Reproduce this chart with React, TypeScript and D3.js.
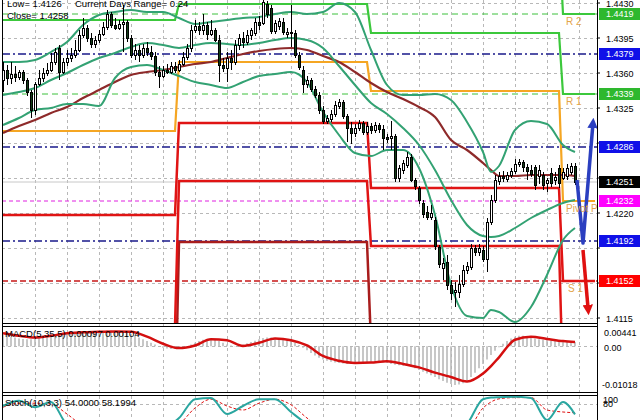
import React from "react";
import * as d3 from "d3";

// ---------- Candles (price in points, i.e. price x 10000) ----------
const openP = [
  14353,14363,14355,14359,14356,14361,14353,14341,14323,14349,
  14355,14360,14363,14371,14385,14361,14371,14375,14378,14383,
  14398,14405,14395,14389,14393,14399,14406,14419,14408,14405,
  14409,14411,14395,14378,14383,14378,14385,14381,14377,14361,
  14357,14363,14361,14367,14363,14369,14376,14385,14403,14407,
  14403,14408,14399,14403,14393,14368,14365,14375,14371,14388,
  14395,14391,14398,14400,14411,14410,14429,14425,14402,14407,
  14411,14399,14401,14400,14378,14363,14349,14353,14344,14338,
  14323,14312,14314,14319,14327,14331,14317,14305,14300,14305,
  14310,14301,14307,14303,14308,14304,14296,14295,14297,14255,
  14263,14268,14276,14253,14245,14230,14221,14216,14213,14186,
  14165,14171,14148,14141,14141,14149,14163,14166,14185,14181,
  14183,14174,14211,14233,14252,14257,14254,14258,14262,14269,
  14271,14266,14263,14266,14257,14258,14250,14260,14253,14265,
  14255,14257,14261,14267,
];
const closeP = [
  14363,14355,14359,14356,14361,14353,14341,14323,14349,14355,
  14360,14363,14371,14381,14361,14371,14375,14378,14383,14398,
  14405,14395,14389,14393,14399,14406,14419,14408,14405,14409,
  14411,14395,14378,14383,14378,14385,14381,14377,14361,14357,
  14363,14361,14367,14363,14369,14376,14385,14403,14407,14403,
  14408,14399,14403,14393,14368,14365,14375,14371,14388,14395,
  14391,14398,14403,14411,14408,14431,14419,14402,14410,14412,
  14401,14401,14400,14378,14366,14349,14353,14344,14338,14323,
  14312,14315,14319,14328,14331,14317,14305,14300,14305,14310,
  14301,14307,14303,14308,14304,14295,14294,14297,14255,14265,
  14270,14276,14253,14247,14233,14219,14216,14220,14187,14169,
  14170,14148,14140,14143,14149,14163,14167,14185,14181,14185,
  14174,14211,14233,14253,14257,14255,14258,14262,14269,14271,
  14266,14262,14259,14248,14263,14248,14253,14250,14256,14250,
  14261,14265,14267,14251,
];
const highP = [
  14371,14368,14371,14367,14363,14363,14355,14343,14351,14363,
  14365,14370,14380,14385,14388,14375,14383,14385,14393,14403,
  14415,14408,14400,14397,14403,14411,14423,14421,14415,14413,
  14428,14413,14398,14389,14388,14389,14391,14387,14381,14367,
  14367,14369,14371,14371,14373,14381,14389,14408,14413,14411,
  14419,14411,14413,14405,14398,14375,14381,14383,14393,14399,
  14401,14403,14405,14415,14417,14433,14432,14428,14413,14415,
  14415,14405,14428,14403,14381,14367,14357,14355,14347,14341,
  14327,14318,14323,14332,14334,14333,14319,14311,14309,14313,
  14312,14311,14310,14311,14310,14308,14299,14312,14299,14268,
  14273,14281,14279,14255,14247,14233,14227,14228,14216,14188,
  14175,14178,14153,14151,14158,14168,14171,14189,14188,14189,
  14187,14215,14238,14258,14261,14262,14261,14265,14274,14274,
  14273,14269,14268,14268,14268,14261,14255,14265,14261,14268,
  14265,14269,14270,14270,
];
const lowP = [
  14341,14348,14349,14351,14353,14349,14337,14315,14318,14347,
  14351,14357,14361,14368,14353,14359,14367,14371,14375,14381,
  14395,14391,14385,14385,14390,14397,14403,14405,14403,14403,
  14381,14391,14375,14373,14371,14375,14377,14373,14357,14345,
  14355,14359,14359,14360,14361,14367,14373,14381,14400,14398,
  14398,14393,14397,14391,14351,14361,14351,14363,14368,14383,
  14385,14388,14393,14397,14403,14408,14415,14399,14399,14403,
  14398,14395,14386,14375,14363,14340,14345,14341,14335,14319,
  14309,14309,14311,14316,14324,14314,14291,14289,14296,14302,
  14298,14298,14299,14300,14300,14283,14290,14283,14251,14251,
  14259,14265,14251,14243,14229,14215,14213,14213,14183,14165,
  14153,14143,14133,14126,14135,14146,14159,14163,14177,14177,
  14171,14161,14208,14230,14248,14251,14251,14255,14259,14266,
  14261,14253,14256,14243,14249,14243,14241,14246,14248,14245,
  14253,14253,14258,14248,
];

// ---------- Indicator lines, read at these bar indices ----------
const sampleIdx = [0,4,8,12,16,20,24,28,32,36,40,44,48,52,56,60,64,68,72,76,80,84,88,92,96,100,104,108,112,116,120,122,124,128,132,136,140,143];
const bbUpper = [14371,14371,14373,14381,14391,14408,14418,14421,14423,14421,14421,14415,14409,14411,14413,14415,14416,14419,14421,14419,14421,14430,14421,14383,14348,14338,14338,14339,14333,14311,14281,14261,14267,14303,14312,14309,14288,14281];
const bbMiddle = [14338,14341,14345,14353,14360,14368,14375,14380,14386,14390,14388,14385,14388,14390,14389,14388,14390,14393,14395,14393,14385,14367,14348,14330,14319,14305,14288,14263,14233,14208,14197,14196,14197,14205,14215,14223,14230,14233];
const bbLower = [14308,14315,14323,14325,14329,14329,14327,14355,14366,14368,14363,14357,14351,14348,14345,14351,14357,14359,14361,14351,14321,14298,14280,14277,14283,14283,14265,14218,14148,14117,14115,14123,14121,14111,14126,14158,14193,14205];
const maSlow = [14300,14307,14313,14320,14326,14335,14343,14351,14358,14361,14363,14366,14369,14371,14375,14379,14382,14384,14385,14383,14377,14371,14361,14350,14341,14334,14326,14316,14293,14283,14270,14263,14257,14257,14258,14258,14258,14257];

// ---------- Daily pivots ----------
const pivotDayStart = [0, 44, 92, 140];
const pivotR2 = [14497, 14490, 14497, 14419];
const pivotR1 = [14413, 14429, 14400, 14339];
const pivotPP = [14302, 14371, 14342, 14232];
const pivotS1 = [14218, 14310, 14245, 14152];
const pivotS2 = [14107, 14252, 14187, 14045];
const pivotS3 = [14010, 14191, 14090, 13960];
const blueLevels = [14379, 14286, 14192];
const bidPrice = 14251;

// ---------- Axis ----------
const priceTicks = [14430, 14395, 14360, 14325, 14290, 14255, 14220, 14185, 14150, 14115];
const markerLevels = [14419, 14379, 14339, 14286, 14251, 14232, 14192, 14152];

// ---------- Forecast arrows ----------
const blueFcIdx = [143.5, 145, 147.5];
const blueFcP = [14253, 14190, 14310];
const redFcIdx = [145, 146.3];
const redFcP = [14183, 14123];

// ---------- MACD (units of 0.0001) ----------
const macdHist = [
  26,25,22,20,18,17,16,16, 17,19,21,23,25,26,26,28,
  30,31,33,34,35,35,34,34, 34,35,36,36,35,35,35,32,
  28,24,20,16,12,8,4,0, -3,-5,-6,-6,-5,-3,0,4,
  8,12,15,17,17,15,12,8, 4,2,1,2,4,7,10,13,
  16,19,20,20,19,18,17,15, 12,8,3,-3,-9,-15,-21,-26,
  -30,-33,-35,-37,-38,-39,-40,-40, -39,-38,-37,-36,-35,-35,-36,-37,
  -38,-40,-42,-43,-44,-45,-47,-50, -54,-58,-62,-66,-70,-75,-79,-83,
  -86,-88,-87,-84,-78,-70,-60,-50, -40,-30,-20,-10,-2,6,12,18,
  22,24,24,22,20,18,16,15, 14,13,12,12,11,11,10,10,
];
const macdSignal = [30,24,20,24,30,32,33,34,33,22,6,-4,2,16,14,1,8,18,14,2,-22,-33,-38,-37,-34,-40,-48,-60,-70,-80,-62,-45,-25,15,22,17,12,10];
const macdTicks = ["0.00441", "0.00", "-0.01018"];

// ---------- Stochastic ----------
const stochMain = [75,88,72,85,30,20,25,30,20,15,20,45,92,95,55,75,92,92,60,30,10,20,15,25,20,25,15,10,5,30,92,96,97,98,95,40,85,54];
const stochSignal = [72,82,82,80,55,28,24,28,25,18,18,30,70,92,75,65,82,92,78,45,18,18,18,20,22,22,20,12,8,15,70,85,93,96,96,65,60,58];

const FONT = "'Liberation Sans', Arial, sans-serif";

export default function App() {
  const n = openP.length;
  const L = 2, R = 597;
  const x = d3.scaleLinear().domain([0, n - 1]).range([3, 575]);
  const y = d3.scaleLinear().domain([14115, 14430]).range([318, 3]);
  const yM = d3.scaleLinear().domain([-101.8, 44.1]).range([391, 327]);
  const yS = d3.scaleLinear().domain([0, 100]).range([436, 396]);

  const smooth = (vals: number[], ys: (v: number) => number) =>
    d3.line<number>().x((_, k) => x(sampleIdx[k])).y((v) => ys(v)).curve(d3.curveMonotoneX)(vals) || "";

  const dayOf = (i: number) => {
    let d = 0;
    pivotDayStart.forEach((s, k) => { if (i >= s) d = k; });
    return d;
  };
  const pivotPath = (levels: number[]) => {
    const pts: [number, number][] = d3.range(n).map((i) => [x(i), y(levels[dayOf(i)])]);
    pts.push([x(148), y(levels[levels.length - 1])]);
    return d3.line()(pts) || "";
  };

  const gridX = d3.range(8, 145, 8).map((i) => Math.round(x(i)) + 0.5);
  const markerColors = ["#2eb82e", "#1010e8", "#2eb82e", "#1010e8", "#000000", "#ff00ff", "#1010e8", "#ff0000"];
  const visibleTicks = priceTicks.filter((t) => markerLevels.every((m) => Math.abs(y(m) - y(t)) > 9));

  const blueFc = d3.line<number>().x((_, k) => x(blueFcIdx[k])).y((v) => y(v))(blueFcP) || "";
  const redFc = d3.line<number>().x((_, k) => x(redFcIdx[k])).y((v) => y(v))(redFcP) || "";

  const px = (v: number) => (v / 10000).toFixed(4);

  return (
    <svg width={640} height={420} style={{ position: "fixed", left: 0, top: 0, background: "#fff" }} fontFamily={FONT}>
      <defs>
        <clipPath id="main"><rect x={L} y={0} width={R - L} height={323} /></clipPath>
        <clipPath id="macd"><rect x={L} y={327} width={R - L} height={65} /></clipPath>
        <clipPath id="stoch"><rect x={L} y={396} width={R - L} height={30} /></clipPath>
        <marker id="arrB" viewBox="0 0 10 10" refX="5" refY="5" markerWidth="3" markerHeight="3" orient="auto">
          <path d="M0,0 L10,5 L0,10 z" fill="#2b3fc0" />
        </marker>
        <marker id="arrR" viewBox="0 0 10 10" refX="5" refY="5" markerWidth="3" markerHeight="3" orient="auto">
          <path d="M0,0 L10,5 L0,10 z" fill="#e01010" />
        </marker>
      </defs>
      <rect x={0} y={0} width={640} height={420} fill="#fff" />

      {/* grids */}
      <g stroke="#b8b8b8" strokeDasharray="3,3" strokeWidth={1} shapeRendering="crispEdges">
        {gridX.map((gx) => <line key={"gx" + gx} x1={gx} x2={gx} y1={0} y2={420} />)}
        {priceTicks.map((t) => <line key={"gy" + t} x1={L} x2={R} y1={Math.round(y(t)) + 0.5} y2={Math.round(y(t)) + 0.5} />)}
        <line x1={L} x2={R} y1={Math.round(yM(0)) + 0.5} y2={Math.round(yM(0)) + 0.5} />
        <line x1={L} x2={R} y1={Math.round(yS(80)) + 0.5} y2={Math.round(yS(80)) + 0.5} />
      </g>

      <g clipPath="url(#main)">
        <line x1={L} x2={R} y1={y(bidPrice)} y2={y(bidPrice)} stroke="#c8c8c8" strokeWidth={1} />
        <line x1={L} x2={R} y1={y(pivotR2[3])} y2={y(pivotR2[3])} stroke="#3cc03c" strokeWidth={1} strokeDasharray="6,4" />
        <line x1={L} x2={R} y1={y(pivotR1[3])} y2={y(pivotR1[3])} stroke="#3cc03c" strokeWidth={1} strokeDasharray="6,4" />
        <line x1={L} x2={R} y1={y(pivotPP[3])} y2={y(pivotPP[3])} stroke="#e020e0" strokeWidth={1} strokeDasharray="4,3" />
        <line x1={L} x2={R} y1={y(pivotS1[3])} y2={y(pivotS1[3])} stroke="#c81818" strokeWidth={1.5} strokeDasharray="6,3" />
        {blueLevels.map((b) => (
          <line key={"bl" + b} x1={L} x2={R} y1={y(b)} y2={y(b)} stroke="#1a1a8a" strokeWidth={1.3} strokeDasharray="8,3,2,3" />
        ))}

        <path d={pivotPath(pivotS3)} fill="none" stroke="#a81c1c" strokeWidth={2.5} />
        <path d={pivotPath(pivotS2)} fill="none" stroke="#e01414" strokeWidth={2.5} />
        <path d={pivotPath(pivotS1)} fill="none" stroke="#e01414" strokeWidth={2.5} />
        <path d={pivotPath(pivotPP)} fill="none" stroke="#f5a623" strokeWidth={2.2} />
        <path d={pivotPath(pivotR1)} fill="none" stroke="#3cc83c" strokeWidth={2.2} />
        <path d={pivotPath(pivotR2)} fill="none" stroke="#3cc83c" strokeWidth={2.2} />

        <path d={smooth(maSlow, y)} fill="none" stroke="#8e2a2a" strokeWidth={2.2} />
        <path d={smooth(bbUpper, y)} fill="none" stroke="#33a273" strokeWidth={2} />
        <path d={smooth(bbMiddle, y)} fill="none" stroke="#33a273" strokeWidth={2} />
        <path d={smooth(bbLower, y)} fill="none" stroke="#33a273" strokeWidth={2} />

        <g shapeRendering="crispEdges">
          {d3.range(n).map((i) => {
            const cx = Math.round(x(i));
            const up = closeP[i] >= openP[i];
            const top = y(Math.max(openP[i], closeP[i]));
            const bot = y(Math.min(openP[i], closeP[i]));
            return (
              <g key={"c" + i}>
                <line x1={cx + 0.5} x2={cx + 0.5} y1={y(highP[i])} y2={y(lowP[i])} stroke="#000" strokeWidth={1} />
                <rect x={cx - 0.5} y={top} width={2} height={Math.max(1, bot - top)} fill={up ? "#fff" : "#123d16"} stroke="#000" strokeWidth={1} />
              </g>
            );
          })}
        </g>

        <path d={blueFc} fill="none" stroke="#2b3fc0" strokeWidth={3.5} strokeLinejoin="round" markerEnd="url(#arrB)" />
        <path d={redFc} fill="none" stroke="#e01010" strokeWidth={3.5} markerEnd="url(#arrR)" />

        <g fill="#e3a54a" fontSize={10}>
          <text x={566} y={y(pivotR2[3]) + 11}>R 2</text>
          <text x={566} y={y(pivotR1[3]) + 11}>R 1</text>
          <text x={566} y={y(pivotPP[3]) + 11}>Pivot P</text>
          <text x={568} y={y(pivotS1[3]) + 11}>S 1</text>
        </g>

        <g fill="#000" fontSize={9.5}>
          <text x={7} y={7}>Low= 1.4126</text>
          <text x={75} y={7}>Current Days Range= 0.24</text>
          <text x={7} y={19}>Close= 1.4258</text>
        </g>
      </g>

      <g clipPath="url(#macd)">
        <g stroke="#b4b4b4" strokeWidth={1.5}>
          {macdHist.map((v, i) => (
            <line key={"h" + i} x1={x(i)} x2={x(i)} y1={yM(0)} y2={yM(v)} />
          ))}
        </g>
        <path d={smooth(macdSignal, yM)} fill="none" stroke="#d40f0f" strokeWidth={2.5} />
        <text x={5} y={337} fontSize={9.5} fill="#000">MACD(5,35,5) 0.00097 0.00104</text>
      </g>

      <g clipPath="url(#stoch)">
        <path d={smooth(stochSignal, yS)} fill="none" stroke="#e01010" strokeWidth={1} strokeDasharray="3,2" />
        <path d={smooth(stochMain, yS)} fill="none" stroke="#2aa6a0" strokeWidth={2} />
        <text x={5} y={406} fontSize={9.5} fill="#000">Stoch(10,3,3) 54.0000 58.1994</text>
      </g>

      <g stroke="#000" strokeWidth={1} fill="none" shapeRendering="crispEdges">
        <line x1={L + 0.5} x2={L + 0.5} y1={0} y2={420} />
        <line x1={R + 0.5} x2={R + 0.5} y1={0} y2={420} />
        <line x1={L} x2={R} y1={323.5} y2={323.5} />
        <line x1={L} x2={R} y1={326.5} y2={326.5} />
        <line x1={L} x2={R} y1={392.5} y2={392.5} />
        <line x1={L} x2={R} y1={395.5} y2={395.5} />
      </g>

      <g fontSize={9} fill="#000">
        {priceTicks.map((t) => (
          <line key={"tk" + t} x1={R} x2={R + 3} y1={y(t)} y2={y(t)} stroke="#000" />
        ))}
        {visibleTicks.map((t) => (
          <text key={"pt" + t} x={606} y={y(t) + 1} dy="0.35em">{px(t)}</text>
        ))}
        {markerLevels.map((m, k) => (
          <g key={"ml" + m}>
            <rect x={599} y={y(m) - 6} width={41} height={12} fill={markerColors[k]} />
            <text x={606} y={y(m)} dy="0.35em" fill="#fff">{px(m)}</text>
          </g>
        ))}
        {macdTicks.map((t, k) => (
          <text key={"mt" + t} x={t.startsWith("-") ? 602 : 604} y={k === 0 ? 333 : k === 1 ? 348 : 385} dy="0.35em">{t}</text>
        ))}
        <text x={603} y={400} dy="0.35em">100</text>
        <text x={603} y={404} dy="0.35em">80</text>
      </g>
    </svg>
  );
}
